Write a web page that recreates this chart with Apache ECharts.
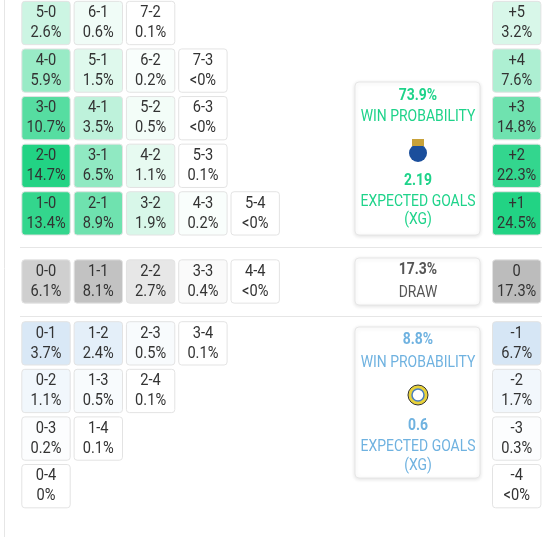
<!DOCTYPE html>
<html><head><meta charset="utf-8">
<script src="https://cdn.jsdelivr.net/npm/echarts@6/dist/echarts.min.js"></script>
<style>html,body{margin:0;padding:0;background:#fff}#c{width:555px;height:537px}</style>
</head><body><div id="c"></div>
<script>
// Score cells: [col, row, label, percent, display]
const homeWinCells = [
  [0,0,'5-0',2.6,'2.6%'],[1,0,'6-1',0.6,'0.6%'],[2,0,'7-2',0.1,'0.1%'],
  [0,1,'4-0',5.9,'5.9%'],[1,1,'5-1',1.5,'1.5%'],[2,1,'6-2',0.2,'0.2%'],[3,1,'7-3',0,'<0%'],
  [0,2,'3-0',10.7,'10.7%'],[1,2,'4-1',3.5,'3.5%'],[2,2,'5-2',0.5,'0.5%'],[3,2,'6-3',0,'<0%'],
  [0,3,'2-0',14.7,'14.7%'],[1,3,'3-1',6.5,'6.5%'],[2,3,'4-2',1.1,'1.1%'],[3,3,'5-3',0.1,'0.1%'],
  [0,4,'1-0',13.4,'13.4%'],[1,4,'2-1',8.9,'8.9%'],[2,4,'3-2',1.9,'1.9%'],[3,4,'4-3',0.2,'0.2%'],[4,4,'5-4',0,'<0%']
];
const drawCells = [
  [0,5.43,'0-0',6.1,'6.1%'],[1,5.43,'1-1',8.1,'8.1%'],[2,5.43,'2-2',2.7,'2.7%'],[3,5.43,'3-3',0.4,'0.4%'],[4,5.43,'4-4',0,'<0%']
];
const awayWinCells = [
  [0,6.73,'0-1',3.7,'3.7%'],[1,6.73,'1-2',2.4,'2.4%'],[2,6.73,'2-3',0.5,'0.5%'],[3,6.73,'3-4',0.1,'0.1%'],
  [0,7.73,'0-2',1.1,'1.1%'],[1,7.73,'1-3',0.5,'0.5%'],[2,7.73,'2-4',0.1,'0.1%'],
  [0,8.73,'0-3',0.2,'0.2%'],[1,8.73,'1-4',0.1,'0.1%'],
  [0,9.73,'0-4',0,'0%']
];
const homeDiffCells = [[9,0,'+5',3.2,'3.2%'],[9,1,'+4',7.6,'7.6%'],[9,2,'+3',14.8,'14.8%'],[9,3,'+2',22.3,'22.3%'],[9,4,'+1',24.5,'24.5%']];
const drawDiffCells = [[9,5.43,'0',17.3,'17.3%']];
const awayDiffCells = [[9,6.73,'-1',6.7,'6.7%'],[9,7.73,'-2',1.7,'1.7%'],[9,8.73,'-3',0.3,'0.3%'],[9,9.73,'-4',0,'<0%']];

function mix(c, t){ t=Math.max(0,Math.min(1,t)); return 'rgb('+c.map(v=>Math.round(255+(v-255)*t)).join(',')+')'; }
const GREEN=[30,210,130], GREY=[188,188,188], BLUE=[214,230,245];
const F='Roboto,"Liberation Sans",sans-serif';

function series(name, data, base, maxv){
  return {type:'custom', name, data, coordinateSystem:'cartesian2d', encode:{x:0,y:1},
    renderItem(params, api){
      const d=data[params.dataIndex];
      const p=api.coord([d[0],d[1]]); const s=api.size([1,1]);
      const w=s[0]*0.925, h=s[1]*0.91;
      const fill=d[3]<=0.1&&base!==GREY? '#fff' : mix(base, Math.pow(d[3]/maxv,0.85));
      const txt=(y,str)=>({type:'text',x:p[0],y:y,scaleX:0.86,style:{x:0,y:0,text:str,align:'center',verticalAlign:'middle',font:'17px '+F,fill:'#333'}});
      return {type:'group',children:[
        {type:'rect',shape:{x:p[0]-w/2,y:p[1]-h/2,width:w,height:h,r:3},
         style:{fill, stroke:'#e3e3e3', lineWidth:1}},
        txt(p[1]-10,d[2]), txt(p[1]+10,d[4])
      ]};
    }};
}
function t(x,y,text,color,bold,size){return {type:'text',x,y,scaleX:0.82,style:{text,x:0,y:0,align:'center',verticalAlign:'middle',font:(bold?'bold ':'')+(size||17)+'px '+F,fill:color}};}
function box(x,y,w,h){return {type:'rect',shape:{x,y,width:w,height:h,r:4},style:{fill:'#fff',stroke:'#e6e6e6',shadowBlur:4,shadowColor:'rgba(0,0,0,0.12)',shadowOffsetY:1}};}
const G='#1ed38a', B='#6fb2e0', D='#555';
const chart=echarts.init(document.getElementById('c'));
chart.setOption({
  animation:false,
  grid:{left:0,right:0,top:0,bottom:0},
  xAxis:{type:'value',min:-0.8795,max:9.732,show:false},
  yAxis:{type:'value',min:-0.483,max:10.798,inverse:true,show:false},
  graphic:[
    {type:'line',shape:{x1:4.5,y1:0,x2:4.5,y2:537},style:{stroke:'#e6e6e6'}},
    {type:'line',shape:{x1:20,y1:247.5,x2:542,y2:247.5},style:{stroke:'#e6e6e6'}},
    {type:'line',shape:{x1:20,y1:316.5,x2:542,y2:316.5},style:{stroke:'#e6e6e6'}},
    box(355,82,125,153), box(355,258,125,47), box(355,327,125,151),
    t(418,96,'73.9%',G,true), t(418,117,'WIN PROBABILITY',G,false), 
    {type:'circle',shape:{cx:418,cy:153,r:9},style:{fill:'#1b4f9c'}},
    {type:'rect',shape:{x:412,y:139,width:12,height:7},style:{fill:'#c8a23a'}},
    t(418,181,'2.19',G,true), t(418,202,'EXPECTED GOALS',G,false), t(418,220,'(XG)',G,false),
    t(418,270,'17.3%',D,true), t(418,293,'DRAW',D,false),
    t(418,340,'8.8%',B,true), t(418,363,'WIN PROBABILITY',B,false),
    {type:'circle',shape:{cx:418,cy:395,r:10},style:{fill:'#e8d23a',stroke:'#333',lineWidth:1}},
    {type:'circle',shape:{cx:418,cy:395,r:6},style:{fill:'#fff',stroke:'#4a7fc0',lineWidth:1.5}},
    t(418,426,'0.6',B,true), t(418,447,'EXPECTED GOALS',B,false), t(418,466,'(XG)',B,false)
  ],
  series:[
    series('homeWin',homeWinCells,GREEN,15),
    series('draw',drawCells,GREY,9),
    series('awayWin',awayWinCells,BLUE,4),
    series('homeDiff',homeDiffCells,GREEN,25),
    series('drawDiff',drawDiffCells,GREY,17.3),
    series('awayDiff',awayDiffCells,BLUE,6.7)
  ]
});
</script></body></html>
